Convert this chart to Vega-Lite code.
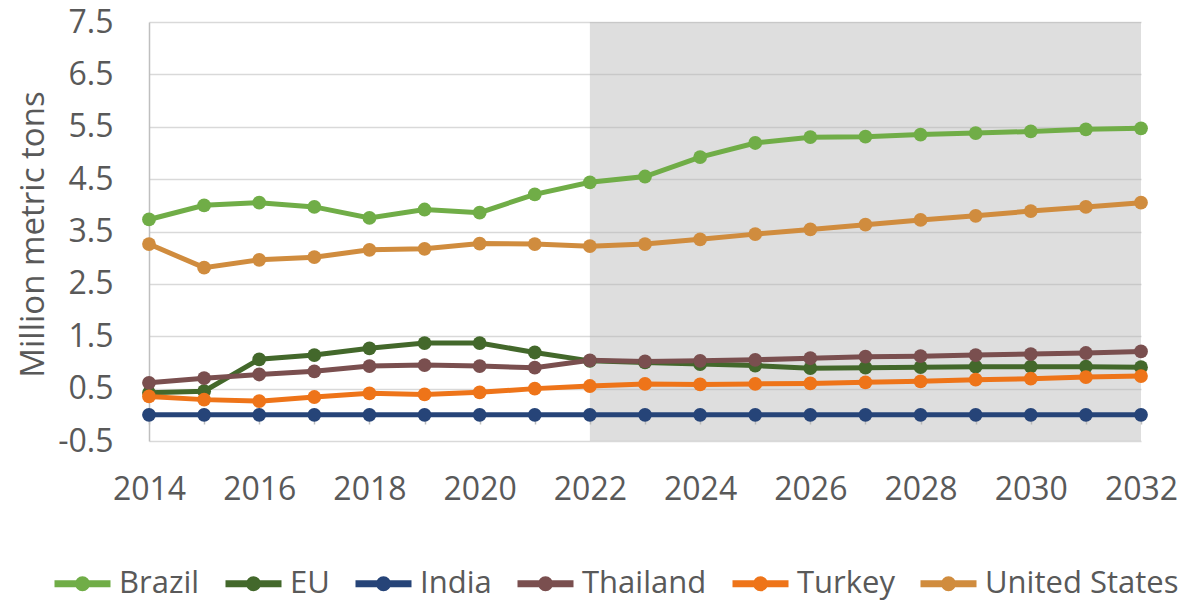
{
  "$schema": "https://vega.github.io/schema/vega-lite/v6.json",
  "width": 992,
  "height": 419,
  "autosize": {"type": "none"},
  "padding": {"left": 149, "top": 22, "right": 43, "bottom": 160},
  "background": "white",
  "config": {"view": {"stroke": null}, "font": "Open Sans"},
  "datasets": {
    "shade": [{"year": 2022, "yearEnd": 2032}],
    "series": [
      {"year": 2014, "country": "Brazil", "value": 3.73},
      {"year": 2015, "country": "Brazil", "value": 4.00},
      {"year": 2016, "country": "Brazil", "value": 4.05},
      {"year": 2017, "country": "Brazil", "value": 3.97},
      {"year": 2018, "country": "Brazil", "value": 3.76},
      {"year": 2019, "country": "Brazil", "value": 3.92},
      {"year": 2020, "country": "Brazil", "value": 3.86},
      {"year": 2021, "country": "Brazil", "value": 4.21},
      {"year": 2022, "country": "Brazil", "value": 4.44},
      {"year": 2023, "country": "Brazil", "value": 4.55},
      {"year": 2024, "country": "Brazil", "value": 4.92},
      {"year": 2025, "country": "Brazil", "value": 5.19},
      {"year": 2026, "country": "Brazil", "value": 5.30},
      {"year": 2027, "country": "Brazil", "value": 5.31},
      {"year": 2028, "country": "Brazil", "value": 5.35},
      {"year": 2029, "country": "Brazil", "value": 5.38},
      {"year": 2030, "country": "Brazil", "value": 5.41},
      {"year": 2031, "country": "Brazil", "value": 5.45},
      {"year": 2032, "country": "Brazil", "value": 5.47},
      {"year": 2014, "country": "EU", "value": 0.42},
      {"year": 2015, "country": "EU", "value": 0.45},
      {"year": 2016, "country": "EU", "value": 1.06},
      {"year": 2017, "country": "EU", "value": 1.14},
      {"year": 2018, "country": "EU", "value": 1.27},
      {"year": 2019, "country": "EU", "value": 1.37},
      {"year": 2020, "country": "EU", "value": 1.37},
      {"year": 2021, "country": "EU", "value": 1.19},
      {"year": 2022, "country": "EU", "value": 1.03},
      {"year": 2023, "country": "EU", "value": 1.00},
      {"year": 2024, "country": "EU", "value": 0.97},
      {"year": 2025, "country": "EU", "value": 0.94},
      {"year": 2026, "country": "EU", "value": 0.89},
      {"year": 2027, "country": "EU", "value": 0.90},
      {"year": 2028, "country": "EU", "value": 0.91},
      {"year": 2029, "country": "EU", "value": 0.92},
      {"year": 2030, "country": "EU", "value": 0.92},
      {"year": 2031, "country": "EU", "value": 0.92},
      {"year": 2032, "country": "EU", "value": 0.91},
      {"year": 2014, "country": "India", "value": 0.0},
      {"year": 2015, "country": "India", "value": 0.0},
      {"year": 2016, "country": "India", "value": 0.0},
      {"year": 2017, "country": "India", "value": 0.0},
      {"year": 2018, "country": "India", "value": 0.0},
      {"year": 2019, "country": "India", "value": 0.0},
      {"year": 2020, "country": "India", "value": 0.0},
      {"year": 2021, "country": "India", "value": 0.0},
      {"year": 2022, "country": "India", "value": 0.0},
      {"year": 2023, "country": "India", "value": 0.0},
      {"year": 2024, "country": "India", "value": 0.0},
      {"year": 2025, "country": "India", "value": 0.0},
      {"year": 2026, "country": "India", "value": 0.0},
      {"year": 2027, "country": "India", "value": 0.0},
      {"year": 2028, "country": "India", "value": 0.0},
      {"year": 2029, "country": "India", "value": 0.0},
      {"year": 2030, "country": "India", "value": 0.0},
      {"year": 2031, "country": "India", "value": 0.0},
      {"year": 2032, "country": "India", "value": 0.0},
      {"year": 2014, "country": "Thailand", "value": 0.61},
      {"year": 2015, "country": "Thailand", "value": 0.70},
      {"year": 2016, "country": "Thailand", "value": 0.77},
      {"year": 2017, "country": "Thailand", "value": 0.83},
      {"year": 2018, "country": "Thailand", "value": 0.93},
      {"year": 2019, "country": "Thailand", "value": 0.95},
      {"year": 2020, "country": "Thailand", "value": 0.93},
      {"year": 2021, "country": "Thailand", "value": 0.90},
      {"year": 2022, "country": "Thailand", "value": 1.04},
      {"year": 2023, "country": "Thailand", "value": 1.02},
      {"year": 2024, "country": "Thailand", "value": 1.03},
      {"year": 2025, "country": "Thailand", "value": 1.05},
      {"year": 2026, "country": "Thailand", "value": 1.08},
      {"year": 2027, "country": "Thailand", "value": 1.11},
      {"year": 2028, "country": "Thailand", "value": 1.12},
      {"year": 2029, "country": "Thailand", "value": 1.14},
      {"year": 2030, "country": "Thailand", "value": 1.16},
      {"year": 2031, "country": "Thailand", "value": 1.18},
      {"year": 2032, "country": "Thailand", "value": 1.21},
      {"year": 2014, "country": "Turkey", "value": 0.35},
      {"year": 2015, "country": "Turkey", "value": 0.29},
      {"year": 2016, "country": "Turkey", "value": 0.26},
      {"year": 2017, "country": "Turkey", "value": 0.34},
      {"year": 2018, "country": "Turkey", "value": 0.41},
      {"year": 2019, "country": "Turkey", "value": 0.39},
      {"year": 2020, "country": "Turkey", "value": 0.43},
      {"year": 2021, "country": "Turkey", "value": 0.50},
      {"year": 2022, "country": "Turkey", "value": 0.55},
      {"year": 2023, "country": "Turkey", "value": 0.59},
      {"year": 2024, "country": "Turkey", "value": 0.58},
      {"year": 2025, "country": "Turkey", "value": 0.59},
      {"year": 2026, "country": "Turkey", "value": 0.60},
      {"year": 2027, "country": "Turkey", "value": 0.62},
      {"year": 2028, "country": "Turkey", "value": 0.64},
      {"year": 2029, "country": "Turkey", "value": 0.67},
      {"year": 2030, "country": "Turkey", "value": 0.69},
      {"year": 2031, "country": "Turkey", "value": 0.72},
      {"year": 2032, "country": "Turkey", "value": 0.74},
      {"year": 2014, "country": "United States", "value": 3.26},
      {"year": 2015, "country": "United States", "value": 2.81},
      {"year": 2016, "country": "United States", "value": 2.96},
      {"year": 2017, "country": "United States", "value": 3.01},
      {"year": 2018, "country": "United States", "value": 3.15},
      {"year": 2019, "country": "United States", "value": 3.17},
      {"year": 2020, "country": "United States", "value": 3.27},
      {"year": 2021, "country": "United States", "value": 3.26},
      {"year": 2022, "country": "United States", "value": 3.22},
      {"year": 2023, "country": "United States", "value": 3.26},
      {"year": 2024, "country": "United States", "value": 3.35},
      {"year": 2025, "country": "United States", "value": 3.45},
      {"year": 2026, "country": "United States", "value": 3.54},
      {"year": 2027, "country": "United States", "value": 3.63},
      {"year": 2028, "country": "United States", "value": 3.72},
      {"year": 2029, "country": "United States", "value": 3.80},
      {"year": 2030, "country": "United States", "value": 3.89},
      {"year": 2031, "country": "United States", "value": 3.97},
      {"year": 2032, "country": "United States", "value": 4.05}
    ]
  },
  "encoding": {
    "x": {
      "field": "year",
      "type": "quantitative",
      "scale": {"domain": [2014, 2032], "nice": false, "zero": false},
      "axis": {
        "values": [2014, 2015, 2016, 2017, 2018, 2019, 2020, 2021, 2022, 2023, 2024, 2025, 2026, 2027, 2028, 2029, 2030, 2031, 2032],
        "format": "d",
        "labelExpr": "datum.value % 2 == 0 ? datum.label : ''",
        "grid": false,
        "domain": false,
        "ticks": true,
        "tickColor": "#BFBFBF",
        "tickWidth": 1.5,
        "tickSize": 9,
        "offset": -26,
        "labelPadding": 50,
        "labelFontSize": 32,
        "labelColor": "#595959",
        "labelFlush": false,
        "labelOverlap": false,
        "title": null
      }
    }
  },
  "layer": [
    {
      "data": {"name": "shade"},
      "mark": {"type": "rect", "fill": "#B1B1B1", "opacity": 0.42},
      "encoding": {"x2": {"field": "yearEnd"}}
    },
    {
      "data": {"name": "series"},
      "mark": {"type": "line", "strokeWidth": 5, "point": {"filled": true, "size": 190, "opacity": 1}},
      "encoding": {
        "y": {
          "field": "value",
          "type": "quantitative",
          "scale": {"domain": [-0.5, 7.5], "nice": false, "zero": false},
          "axis": {
            "values": [-0.5, 0.5, 1.5, 2.5, 3.5, 4.5, 5.5, 6.5, 7.5],
            "format": ".1f",
            "labelExpr": "replace(datum.label, '\u2212', '-')",
            "grid": true,
            "gridColor": "#D9D9D9",
            "gridWidth": 1.5,
            "domain": true,
            "domainColor": "#BFBFBF",
            "domainWidth": 1.5,
            "ticks": false,
            "labelPadding": 36,
            "labelFontSize": 32,
            "labelColor": "#595959",
            "title": "Million metric tons",
            "titleFontSize": 33,
            "titleFontWeight": "normal",
            "titleColor": "#595959",
            "titleAngle": -90,
            "titleAlign": "center",
            "titleBaseline": "alphabetic",
            "titleX": -106,
            "titleY": 212
          }
        },
        "color": {
          "field": "country",
          "type": "nominal",
          "scale": {
            "domain": ["Brazil", "EU", "India", "Thailand", "Turkey", "United States"],
            "range": ["#70AD47", "#43682B", "#264478", "#7A4F4F", "#EE7419", "#D08C3E"]
          },
          "legend": {
            "orient": "none",
            "legendX": -98,
            "legendY": 530,
            "direction": "horizontal",
            "columns": 6,
            "title": null,
            "labelFontSize": 31,
            "labelLimit": 400,
            "labelColor": "#595959",
            "labelOffset": 5,
            "columnPadding": 11,
            "symbolType": "M-1,0H1M-0.143,0A0.143,0.143,0,1,0,0.143,0A0.143,0.143,0,1,0,-0.143,0Z",
            "symbolSize": 3136,
            "symbolStrokeWidth": 7
          }
        }
      }
    }
  ]
}
